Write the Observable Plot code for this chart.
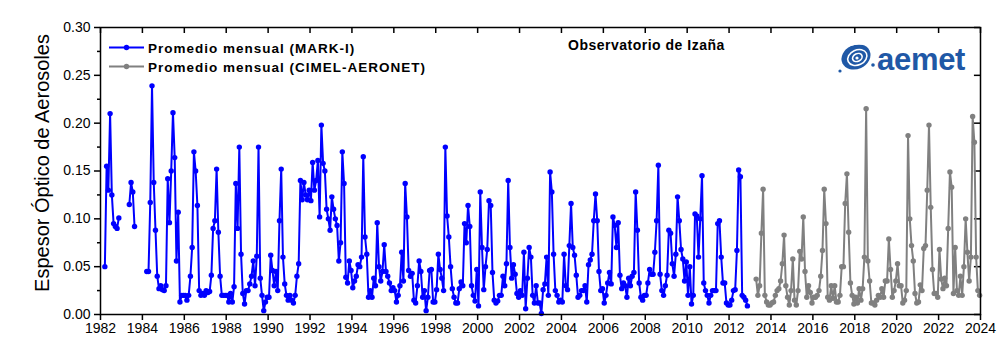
<!DOCTYPE html>
<html><head><meta charset="utf-8">
<script src="https://cdn.jsdelivr.net/npm/d3@7"></script>
<script src="https://cdn.jsdelivr.net/npm/@observablehq/plot@0.6"></script>
<style>
body{margin:0;background:#fff;}
#wrap{position:relative;width:1000px;height:361px;font-family:"Liberation Sans",Arial,sans-serif;}
#overlay{position:absolute;left:0;top:0;pointer-events:none;}
</style></head><body><div id="wrap"></div>
<script>
// ---- data (monthly means, Jan..Dec per row; null = no data) ----
const markIStart = 1982;
const markIValues = [
  null, null, 0.050, 0.155, 0.130, 0.210, 0.125, 0.095, 0.092, 0.090, 0.101, null, // 1982
  null, null, null, null, 0.115, 0.138, 0.128, 0.092, null, null, null, null,       // 1983
  null, null, 0.045, 0.045, 0.117, 0.239, 0.138, 0.088, 0.040, 0.027, 0.030, 0.026, // 1984
  0.025, 0.030, 0.142, 0.096, 0.150, 0.211, 0.164, 0.056, 0.107, 0.013, 0.020, 0.020, // 1985
  0.020, 0.015, 0.020, 0.040, 0.070, 0.170, 0.150, 0.114, 0.025, 0.020, 0.022, 0.020, // 1986
  0.025, 0.023, 0.024, 0.041, 0.090, 0.098, 0.152, 0.086, 0.040, 0.020, 0.020, 0.020, // 1987
  0.020, 0.013, 0.022, 0.013, 0.029, 0.137, 0.090, 0.175, 0.063, 0.022, 0.011, 0.025, // 1988
  0.025, 0.032, 0.040, 0.056, 0.030, 0.061, 0.175, 0.038, 0.020, 0.004, 0.013, 0.018, // 1989
  0.018, 0.062, 0.046, 0.030, 0.045, 0.025, 0.098, 0.152, 0.060, 0.032, 0.020, 0.015, // 1990
  0.020, 0.015, 0.012, 0.020, 0.040, 0.053, 0.140, 0.120, 0.138, 0.125, 0.120, 0.130, // 1991
  0.119, 0.159, 0.130, 0.140, 0.161, 0.102, 0.198, 0.158, 0.150, 0.110, 0.100, 0.088, // 1992
  0.123, 0.110, 0.100, 0.093, 0.056, 0.075, 0.170, 0.137, 0.039, 0.033, 0.056, 0.046, // 1993
  0.028, 0.035, 0.040, 0.052, 0.050, 0.060, 0.165, 0.081, 0.063, 0.018, 0.025, 0.018, // 1994
  0.038, 0.030, 0.096, 0.050, 0.035, 0.045, 0.073, 0.045, 0.040, 0.033, 0.025, 0.028, // 1995
  0.025, 0.013, 0.020, 0.030, 0.065, 0.035, 0.137, 0.102, 0.046, 0.040, 0.043, 0.015, // 1996
  0.012, 0.030, 0.056, 0.045, 0.018, 0.025, 0.004, 0.018, 0.046, 0.047, 0.013, 0.013, // 1997
  0.026, 0.063, 0.047, 0.038, 0.025, 0.175, 0.103, 0.081, 0.050, 0.027, 0.018, 0.012, // 1998
  0.012, 0.027, 0.034, 0.030, 0.095, 0.075, 0.114, 0.092, 0.030, 0.020, 0.014, 0.047, // 1999
  0.009, 0.128, 0.070, 0.026, 0.050, 0.068, 0.119, 0.114, 0.044, 0.015, 0.012, 0.014, // 2000
  0.020, 0.020, 0.040, 0.030, 0.053, 0.140, 0.070, 0.038, 0.052, 0.042, 0.022, 0.018, // 2001
  0.025, 0.020, 0.065, 0.006, 0.038, 0.070, 0.060, 0.020, 0.012, 0.030, 0.012, 0.012, // 2002
  0.001, 0.026, 0.032, 0.060, 0.020, 0.149, 0.128, 0.063, 0.025, 0.020, 0.013, 0.015, // 2003
  0.013, 0.063, 0.030, 0.026, 0.072, 0.116, 0.070, 0.062, 0.041, 0.018, 0.020, 0.025, // 2004
  0.025, 0.030, 0.013, 0.052, 0.057, 0.063, 0.098, 0.126, 0.098, 0.045, 0.025, 0.027, // 2005
  0.012, 0.020, 0.033, 0.044, 0.032, 0.102, 0.093, 0.070, 0.096, 0.041, 0.027, 0.033, // 2006
  0.030, 0.018, 0.038, 0.030, 0.040, 0.044, 0.128, 0.088, 0.033, 0.018, 0.015, 0.020, // 2007
  0.020, 0.033, 0.047, 0.042, 0.042, 0.065, 0.098, 0.156, 0.042, 0.025, 0.020, 0.030, // 2008
  0.041, 0.088, 0.085, 0.053, 0.040, 0.063, 0.123, 0.098, 0.068, 0.058, 0.035, 0.055, // 2009
  0.020, 0.050, 0.011, 0.020, 0.105, 0.103, 0.060, 0.100, 0.145, 0.033, 0.025, 0.020, // 2010
  0.012, 0.020, 0.025, 0.025, 0.025, 0.095, 0.098, 0.060, 0.033, 0.033, 0.012, 0.010, // 2011
  0.010, 0.015, 0.025, 0.026, 0.067, 0.151, 0.144, 0.020, 0.018, 0.015, 0.009, null  // 2012
];
const cimelStart = 2013;
const cimelValues = [
  null, null, null, 0.037, 0.020, 0.030, 0.085, 0.131, 0.020, 0.013, 0.010, 0.010, // 2013
  0.012, 0.013, 0.020, 0.025, 0.027, 0.035, 0.053, 0.083, 0.030, 0.018, 0.010, 0.025, // 2014
  0.058, 0.015, 0.010, 0.025, 0.066, 0.058, 0.102, 0.045, 0.018, 0.030, 0.023, 0.012, // 2015
  0.018, 0.018, 0.020, 0.025, 0.040, 0.067, 0.131, 0.095, 0.018, 0.015, 0.030, 0.017, // 2016
  0.030, 0.013, 0.013, 0.020, 0.050, 0.050, 0.116, 0.147, 0.086, 0.033, 0.020, 0.011, // 2017
  0.018, 0.012, 0.027, 0.015, 0.027, 0.060, 0.215, 0.056, 0.035, 0.012, 0.012, 0.010, // 2018
  0.015, 0.020, 0.018, 0.027, 0.018, 0.035, 0.035, 0.079, 0.047, 0.018, 0.025, 0.035, // 2019
  0.053, 0.030, 0.030, 0.012, 0.015, 0.025, 0.187, 0.100, 0.072, 0.056, 0.022, 0.012, // 2020
  0.013, 0.031, 0.025, 0.069, 0.072, 0.130, 0.198, 0.112, 0.047, 0.022, 0.022, 0.018, // 2021
  0.068, 0.037, 0.027, 0.038, 0.030, 0.090, 0.149, 0.133, 0.022, 0.070, 0.025, 0.020, // 2022
  0.040, 0.020, 0.050, 0.100, 0.065, 0.035, 0.060, 0.207, 0.180, 0.060, 0.025, 0.020  // 2023
];
const xTicks = [1982,1984,1986,1988,1990,1992,1994,1996,1998,2000,2002,2004,2006,2008,2010,2012,2014,2016,2018,2020,2022,2024];
const yTicks = [0, 0.05, 0.10, 0.15, 0.20, 0.25, 0.30];
const yMinor = [0.025, 0.075, 0.125, 0.175, 0.225, 0.275];
const seriesNames = ["Promedio mensual (MARK-I)", "Promedio mensual (CIMEL-AERONET)"];
const seriesColors = ["#0000ff", "#808080"];
const titleText = "Observatorio de Izaña";
const yLabel = "Espesor Óptico de Aerosoles";

const toRows = (start, vals) => vals.map((v, i) => ({t: start + (i + 0.5) / 12, v}));
const markI = toRows(markIStart, markIValues);
const cimel = toRows(cimelStart, cimelValues);

const plot = Plot.plot({
  width: 1000, height: 361,
  marginLeft: 100, marginRight: 20, marginTop: 27, marginBottom: 47,
  style: {fontFamily: "'Liberation Sans', Arial, sans-serif", fontSize: "14px", color: "black", background: "white", overflow: "visible"},
  x: {domain: [1982, 2024]},
  y: {domain: [0, 0.30]},
  marks: [
    Plot.axisX({ticks: xTicks, tickFormat: d => String(d), tickSize: 6, tickPadding: 3, label: null, fontSize: 14, strokeWidth: 1.5}),
    Plot.axisY({ticks: yTicks, tickFormat: d3.format(".2f"), tickSize: 6, tickPadding: 4, label: null, fontSize: 14, strokeWidth: 1.5}),
    Plot.axisY({ticks: yMinor, tickSize: 3, tickFormat: () => "", label: null, strokeWidth: 1.5}),
    Plot.ruleX(xTicks, {y1: 0.30, y2: 0.2937, stroke: "black", strokeWidth: 1.5}),
    Plot.ruleY(yTicks, {x1: 2024, x2: 2023.71, stroke: "black", strokeWidth: 1.5}),
    Plot.lineY(markI, {x: "t", y: "v", stroke: seriesColors[0], strokeWidth: 2}),
    Plot.dot(markI, {x: "t", y: "v", r: 2.7, fill: seriesColors[0], stroke: "none"}),
    Plot.lineY(cimel, {x: "t", y: "v", stroke: seriesColors[1], strokeWidth: 2}),
    Plot.dot(cimel, {x: "t", y: "v", r: 2.7, fill: seriesColors[1], stroke: "none"}),
    Plot.frame({stroke: "black", strokeWidth: 1.5})
  ]
});
const wrap = document.getElementById("wrap");
wrap.appendChild(plot);

// overlay: y label, legend, title, logo
const ns = "http://www.w3.org/2000/svg";
const ov = document.createElementNS(ns, "svg");
ov.setAttribute("id", "overlay");
ov.setAttribute("width", 1000); ov.setAttribute("height", 361);
ov.setAttribute("font-family", "'Liberation Sans', Arial, sans-serif");
let html = "";
html += `<text transform="translate(49,163) rotate(-90)" text-anchor="middle" font-size="20" fill="black">${yLabel}</text>`;
seriesNames.forEach((name, i) => {
  const y = 47.5 + i * 19;
  html += `<line x1="109" x2="144" y1="${y}" y2="${y}" stroke="${seriesColors[i]}" stroke-width="2"/>`;
  html += `<circle cx="126.5" cy="${y}" r="2.7" fill="${seriesColors[i]}"/>`;
  html += `<text x="148" y="${y + 5}" font-size="13.5" font-weight="bold" letter-spacing="1" fill="black">${name}</text>`;
});
html += `<text x="568" y="50" font-size="14" font-weight="bold" letter-spacing="0.5" fill="black">${titleText}</text>`;
// aemet logo
html += `<g transform="translate(856,57)">
  <ellipse cx="0" cy="0" rx="15" ry="12" transform="rotate(-25)" fill="#1f58a6"/>
  <ellipse cx="1" cy="1" rx="10" ry="7.5" transform="rotate(-25)" fill="none" stroke="white" stroke-width="1.6"/>
  <ellipse cx="1" cy="1" rx="5" ry="3.8" transform="rotate(-25)" fill="none" stroke="white" stroke-width="1.6"/>
  <path d="M-15,-6 Q-4,-16 12,-12" fill="none" stroke="white" stroke-width="1.4"/>
  <circle cx="1" cy="1" r="1.6" fill="white"/>
</g>
<circle cx="873" cy="65" r="1.8" fill="#1f58a6"/>
<circle cx="840" cy="71" r="1.6" fill="#1f58a6"/>`;
html += `<text x="877" y="70" font-size="31" font-weight="bold" fill="#1f58a6" letter-spacing="-0.3">aemet</text>`;
ov.innerHTML = html;
wrap.appendChild(ov);
</script></body></html>
